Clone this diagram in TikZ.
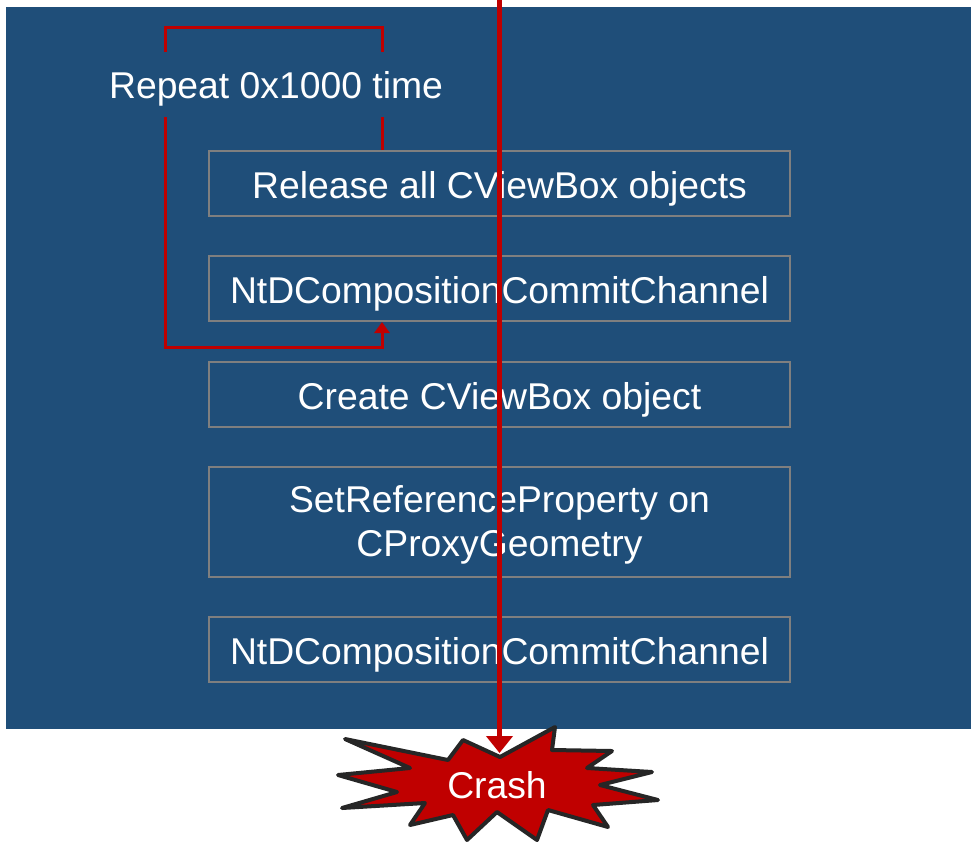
\documentclass[tikz,border=0pt]{standalone}
\usepackage{fontspec}
\setmainfont{Liberation Sans}
\usetikzlibrary{arrows.meta}

\definecolor{panelblue}{HTML}{1F4E79}
\definecolor{alarmred}{HTML}{C00000}
\definecolor{boxgray}{HTML}{7F7F7F}
\definecolor{burstedge}{HTML}{262626}

\tikzset{
  stepbox/.style={draw=boxgray, line width=2pt, minimum width=581pt,
    minimum height=65pt, text=white, inner sep=0pt,
    font=\fontsize{37.3}{44}\selectfont},
  oneline/.style={text height=32pt, text depth=3pt},
  loopline/.style={draw=alarmred, line width=3pt,
    -{Triangle[width=15pt,length=11pt]}},
  flowline/.style={draw=alarmred, line width=5pt,
    -{Triangle[width=26pt,length=17pt]}},
  bigtext/.style={text=white, font=\fontsize{37.3}{44}\selectfont},
}

\begin{document}
\begin{tikzpicture}[x=1pt, y=-1pt]
  \useasboundingbox (0,0) rectangle (971,841);

  % dark panel behind the call sequence
  \fill[panelblue] (6,7) rectangle (971,729);

  % call sequence
  \node[stepbox, oneline] (b1) at (499.5,183.5) {Release all CViewBox objects};
  \node[stepbox, oneline] (b2) at (499.5,288.5) {NtDCompositionCommitChannel};
  \node[stepbox, oneline] (b3) at (499.5,394.5) {Create CViewBox object};
  \node[stepbox, minimum height=110pt, align=center, text depth=2pt]
    (b4) at (499.5,522) {SetReferenceProperty on\\CProxyGeometry};
  \node[stepbox, oneline] (b5) at (499.5,649.5) {NtDCompositionCommitChannel};

  % repeat loop around the first two steps
  \coordinate (lx) at (382,27);
  \coordinate (ltl) at (165,27);
  \coordinate (lbl) at (165,347);
  \draw[loopline] (b1.north -| lx) |- (ltl) -- (lbl) -| (b2.south -| lx);
  \node[bigtext, fill=panelblue, text height=31pt, text depth=4pt,
    inner ysep=15pt, inner xsep=2pt] (rep) at (276,84.5) {Repeat 0x1000 time};

  % crash burst
  \filldraw[fill=alarmred, draw=burstedge, line width=4pt, line join=round]
    (345,739) -- (448,760) -- (463,740) -- (500,757) -- (555,727) --
    (552,750) -- (612,751) -- (587,768) -- (652,772) -- (600,785) --
    (658,800) -- (593,805) -- (608,827) -- (548,810) -- (537,840) --
    (497,812) -- (467,840) -- (453,815) -- (410,825) -- (425,803) --
    (342,808) -- (397,792) -- (338,775) -- (410,768) -- cycle;
  \node[bigtext, oneline, inner sep=0pt] (crash) at (497,783.5) {Crash};

  % execution path down to the crash
  \coordinate (start) at (499.5,0);
  \coordinate (hit) at (499.5,753);
  \draw[flowline] (start) -- (hit);
\end{tikzpicture}
\end{document}
